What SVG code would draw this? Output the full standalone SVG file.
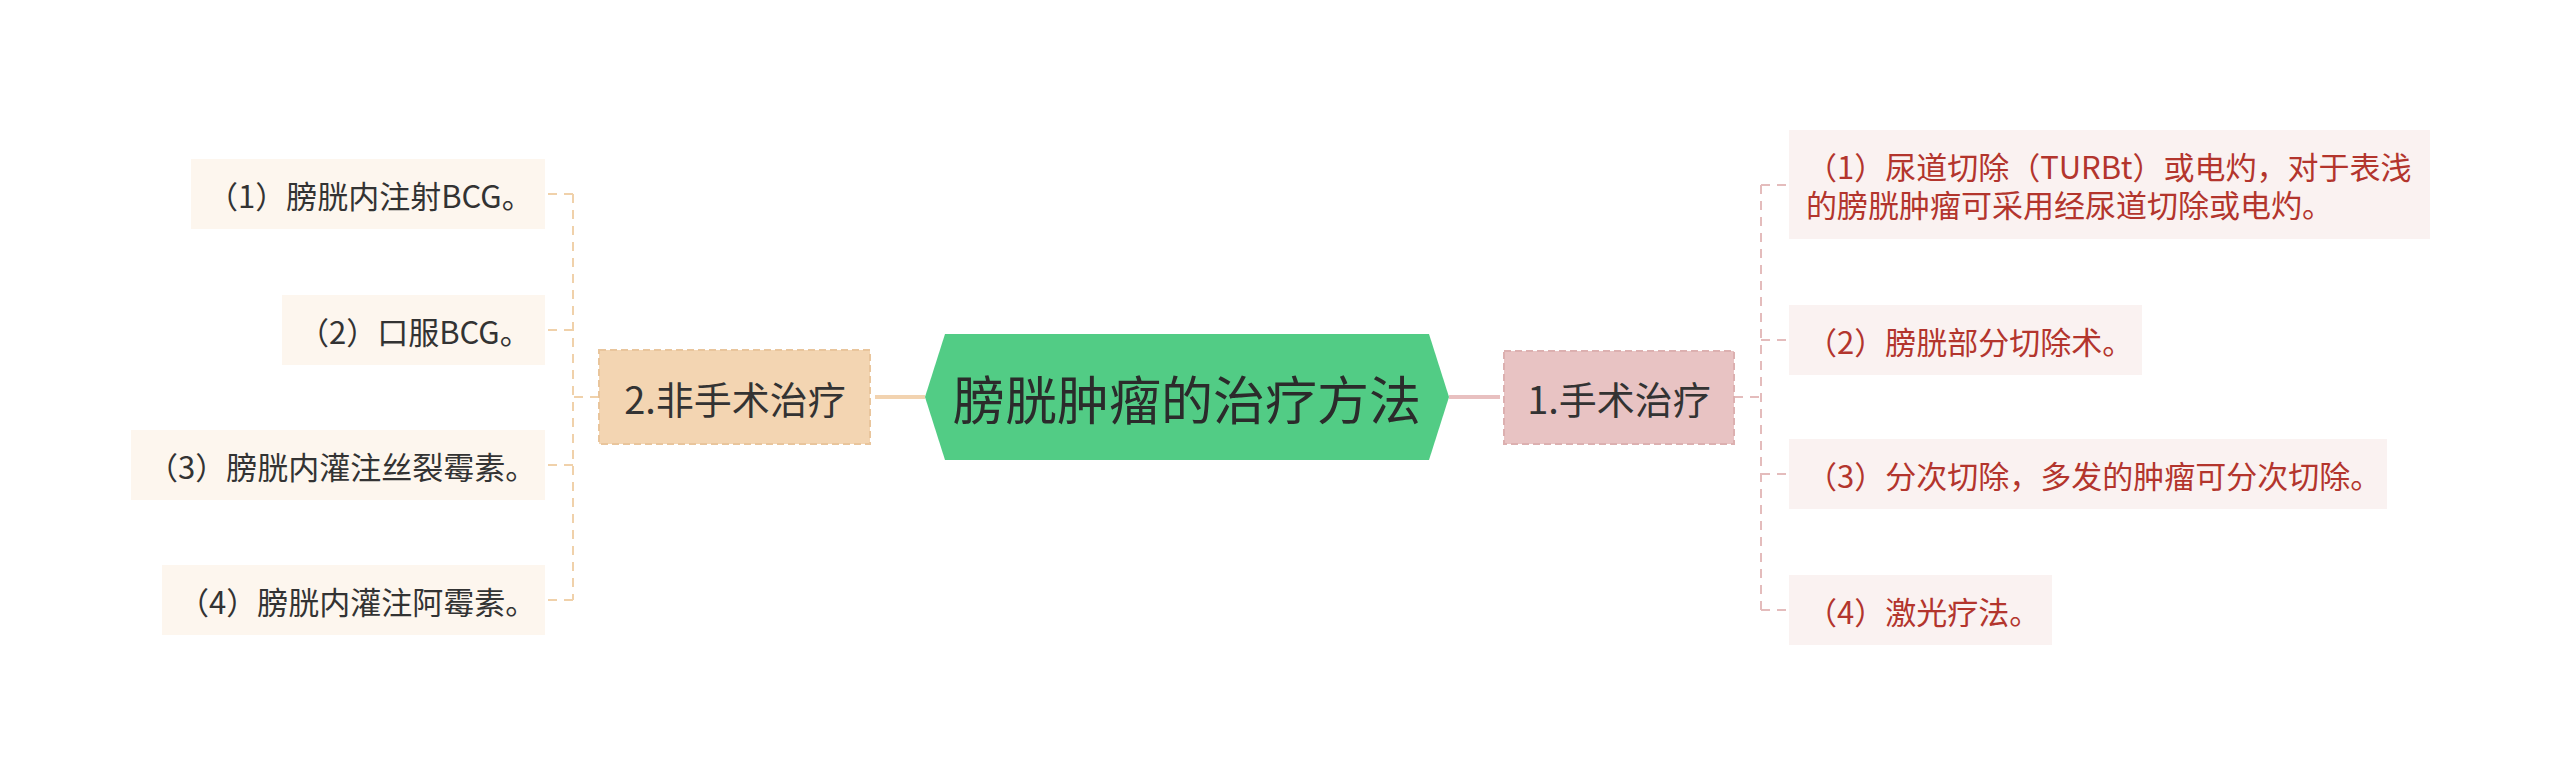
<svg xmlns="http://www.w3.org/2000/svg" width="2560" height="775" viewBox="0 0 2560 775">
<style>
text{font-family:"Noto Sans CJK SC","Noto Sans",sans-serif;dominant-baseline:central}
.leafL rect{fill:#fdf6ee}
.leafR rect{fill:#faf2f1}
.leafL text{font-size:31px;fill:#333333}
.leafR text{font-size:31px;fill:#b3352d}
.mid text{font-size:38px;fill:#333333;text-anchor:middle}
.cl{stroke:#f0d1aa;stroke-width:2;fill:none;stroke-dasharray:9 7}
.cr{stroke:#e4bcbc;stroke-width:2;fill:none;stroke-dasharray:9 7}
</style>
<rect width="2560" height="775" fill="#ffffff"/>
<g id="connectors">
<line x1="875" y1="397" x2="925" y2="397" stroke="#f2d3b0" stroke-width="4"/>
<line x1="1449" y1="397" x2="1500" y2="397" stroke="#e8c0c0" stroke-width="4"/>
<line class="cl" x1="573" y1="194" x2="573" y2="600"/>
<line class="cl" x1="599" y1="397" x2="573" y2="397"/>
<line class="cl" x1="573" y1="194" x2="545" y2="194"/>
<line class="cl" x1="573" y1="330" x2="545" y2="330"/>
<line class="cl" x1="573" y1="465" x2="545" y2="465"/>
<line class="cl" x1="573" y1="600" x2="545" y2="600"/>
<line class="cr" x1="1761" y1="185" x2="1761" y2="610"/>
<line class="cr" x1="1734" y1="397" x2="1761" y2="397"/>
<line class="cr" x1="1761" y1="185" x2="1789" y2="185"/>
<line class="cr" x1="1761" y1="340" x2="1789" y2="340"/>
<line class="cr" x1="1761" y1="474" x2="1789" y2="474"/>
<line class="cr" x1="1761" y1="610" x2="1789" y2="610"/>
</g>
<g id="root">
<polygon points="925,397 945,334 1429,334 1449,397 1429,460 945,460" fill="#52cc85"/>
<text x="1187" y="397" font-size="52" fill="#2b2b2b" text-anchor="middle">膀胱肿瘤的治疗方法</text>
</g>
<g id="node-2" class="mid">
<rect x="599" y="350" width="271" height="94" fill="#f3d5b2" stroke="#e9c59c" stroke-width="2" stroke-dasharray="7 4"/>
<text x="735" y="397">2.非手术治疗</text>
</g>
<g id="node-1" class="mid">
<rect x="1504" y="351" width="230" height="93" fill="#e8c3c3" stroke="#dcb0b0" stroke-width="2" stroke-dasharray="7 4"/>
<text x="1619" y="397">1.手术治疗</text>
</g>
<g id="leaf-l1" class="leafL">
<rect x="191" y="159" width="354" height="70"/>
<text x="207" y="194">（1）膀胱内注射BCG。</text>
</g>
<g id="leaf-l2" class="leafL">
<rect x="282" y="295" width="263" height="70"/>
<text x="298" y="330">（2）口服BCG。</text>
</g>
<g id="leaf-l3" class="leafL">
<rect x="131" y="430" width="414" height="70"/>
<text x="147" y="465">（3）膀胱内灌注丝裂霉素。</text>
</g>
<g id="leaf-l4" class="leafL">
<rect x="162" y="565" width="383" height="70"/>
<text x="178" y="600">（4）膀胱内灌注阿霉素。</text>
</g>
<g id="leaf-r1" class="leafR">
<rect x="1789" y="130" width="641" height="109"/>
<text x="1806" y="165.5">（1）尿道切除（TURBt）或电灼，对于表浅</text>
<text x="1806" y="203.5">的膀胱肿瘤可采用经尿道切除或电灼。</text>
</g>
<g id="leaf-r2" class="leafR">
<rect x="1789" y="305" width="353" height="70"/>
<text x="1806" y="340">（2）膀胱部分切除术。</text>
</g>
<g id="leaf-r3" class="leafR">
<rect x="1789" y="439" width="598" height="70"/>
<text x="1806" y="474">（3）分次切除，多发的肿瘤可分次切除。</text>
</g>
<g id="leaf-r4" class="leafR">
<rect x="1789" y="575" width="263" height="70"/>
<text x="1806" y="610">（4）激光疗法。</text>
</g>
</svg>
